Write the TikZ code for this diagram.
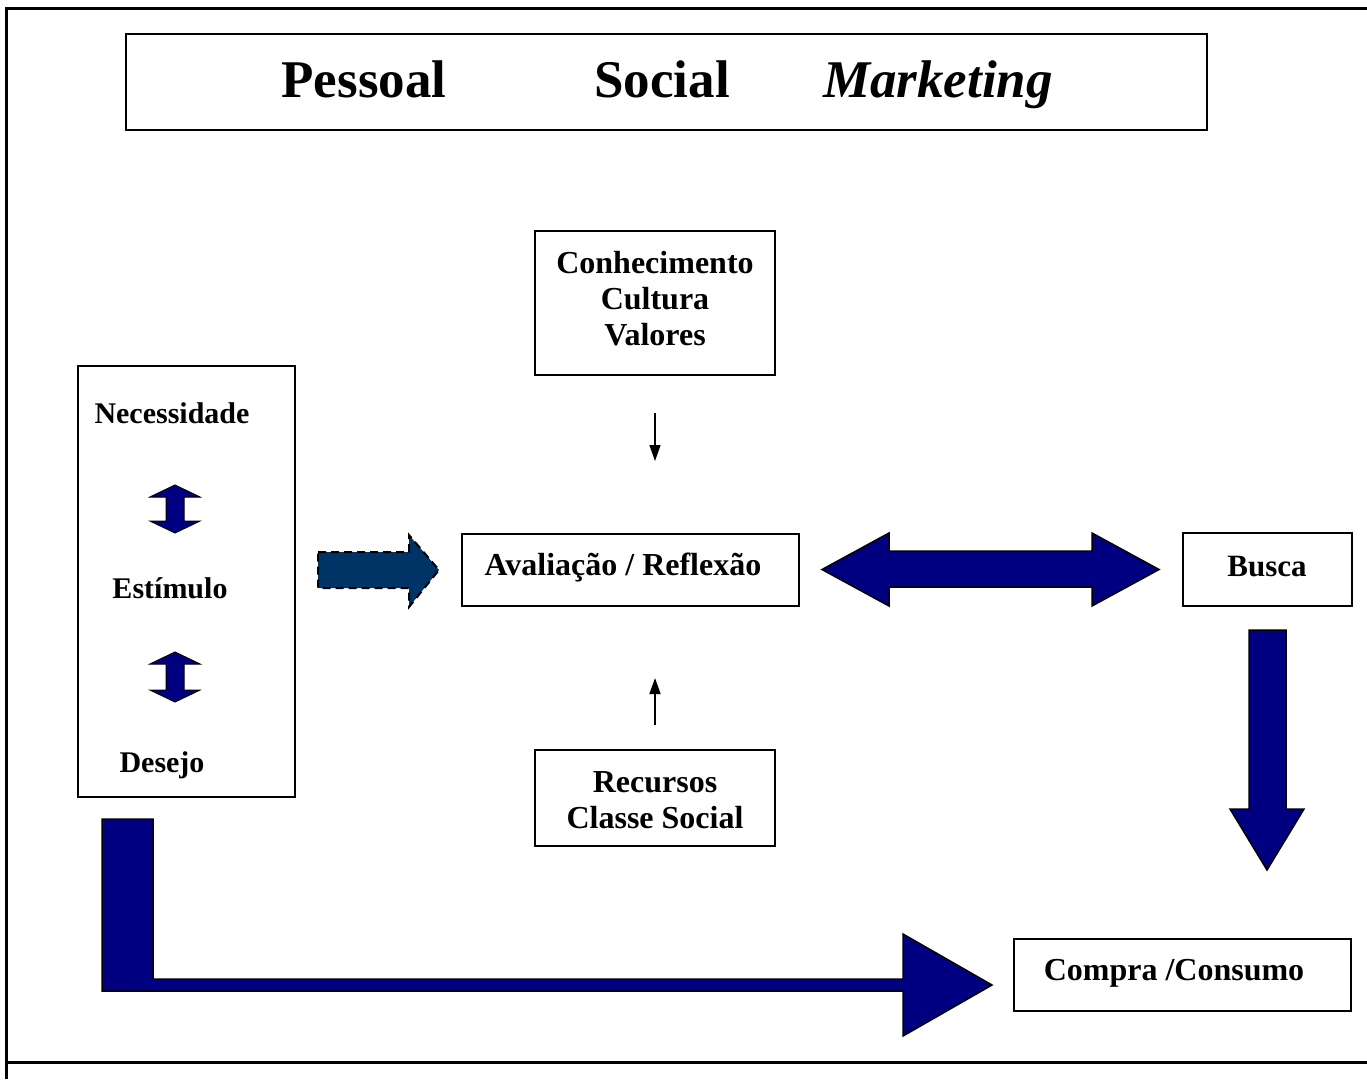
\documentclass[tikz,border=0pt]{standalone}
\usepackage{fontspec}
\setmainfont{Liberation Serif}
\usetikzlibrary{arrows.meta}
\definecolor{navyfill}{RGB}{0,0,128}
\definecolor{tealfill}{RGB}{0,51,102}
\begin{document}
\begin{tikzpicture}[x=1pt,y=-1pt,
  box/.style={draw=black,line width=2pt,fill=white,inner sep=0pt},
  lbl/.style={inner sep=0pt,font=\fontsize{30}{36}\selectfont\bfseries},
  big/.style={inner sep=0pt,align=center,font=\fontsize{32}{36}\selectfont\bfseries},
  ttl/.style={inner sep=0pt,anchor=base,font=\fontsize{53}{60}\selectfont\bfseries},
  blockarrow/.style={fill=navyfill,draw=black,line width=1.5pt,line join=miter},
  thinarrow/.style={line width=1.5pt,-{Triangle[length=16pt,width=11pt]}}]
\useasboundingbox (0,0) rectangle (1367,1079);
% frame
\draw[line width=3pt] (6,1079) -- (6,8) -- (1367,8);
\draw[line width=3pt] (6,1062) -- (1367,1062);
% title
\node[box,minimum width=1081pt,minimum height=96pt] (title) at (666.5,82) {};
\node[ttl] (pessoal) at (364,97) {Pessoal};
\node[ttl] (social) at (662,97) {Social};
\node[ttl] (marketing) at (938,97) {\itshape Marketing};
% boxes
\node[box,minimum width=240pt,minimum height=144pt] (conh) at (655,303) {};
\node[big] (conhtxt) at (655,299) {Conhecimento\\Cultura\\Valores};
\node[box,minimum width=240pt,minimum height=96pt] (recursos) at (655,798) {};
\node[big] (rectxt) at (655,800) {Recursos\\Classe Social};
\node[box,minimum width=217pt,minimum height=431pt] (left) at (186.5,581.5) {};
\node[lbl] (nec) at (172,413) {Necessidade};
\node[lbl] (est) at (170,588) {Estímulo};
\node[lbl] (des) at (162,765) {Desejo};
\node[box,minimum width=337pt,minimum height=72pt] (aval) at (630.5,570) {};
\node[big] (avaltxt) at (623,568) {Avaliação / Reflexão};
\node[box,minimum width=169pt,minimum height=73pt] (busca) at (1267.5,569.5) {};
\node[lbl,font=\fontsize{31}{36}\selectfont\bfseries] (buscatxt) at (1267,567) {Busca};
\node[box,minimum width=337pt,minimum height=72pt] (compra) at (1182.5,975) {};
\node[big] (compratxt) at (1174,973) {Compra /Consumo};
% thin arrows
\coordinate (c1) at (655,413);
\coordinate (c2) at (655,461);
\coordinate (r1) at (655,725);
\coordinate (r2) at (655,678);
\draw[thinarrow] (c1) -- (c2);
\draw[thinarrow] (r1) -- (r2);
% dashed arrow
\draw[fill=tealfill,draw=black,line width=2pt,dash pattern=on 8pt off 5pt]
  (318,552) -- (409,552) -- (409,535) -- (439,570) -- (409,607) -- (409,588) -- (318,588) -- cycle;
% double arrow
\draw[blockarrow] (822,569.5) -- (889,533) -- (889,551) -- (1092,551) -- (1092,533)
  -- (1159,569.5) -- (1092,606) -- (1092,587) -- (889,587) -- (889,606) -- cycle;
% down arrow
\draw[blockarrow] (1249,630) -- (1286,630) -- (1286,809) -- (1304,809) -- (1267,870)
  -- (1230,809) -- (1249,809) -- cycle;
% L arrow
\draw[blockarrow] (102,819) -- (153,819) -- (153,979) -- (903,979) -- (903,934)
  -- (992,985) -- (903,1036) -- (903,991) -- (102,991) -- cycle;
% small double arrows
\draw[blockarrow,line width=1pt] (175,485) -- (200,497) -- (184,497) -- (184,521) -- (200,521)
  -- (175,533) -- (150,521) -- (166,521) -- (166,497) -- (150,497) -- cycle;
\draw[blockarrow,line width=1pt] (175,652) -- (200,664) -- (184,664) -- (184,690) -- (200,690)
  -- (175,702) -- (150,690) -- (166,690) -- (166,664) -- (150,664) -- cycle;
\end{tikzpicture}
\end{document}
